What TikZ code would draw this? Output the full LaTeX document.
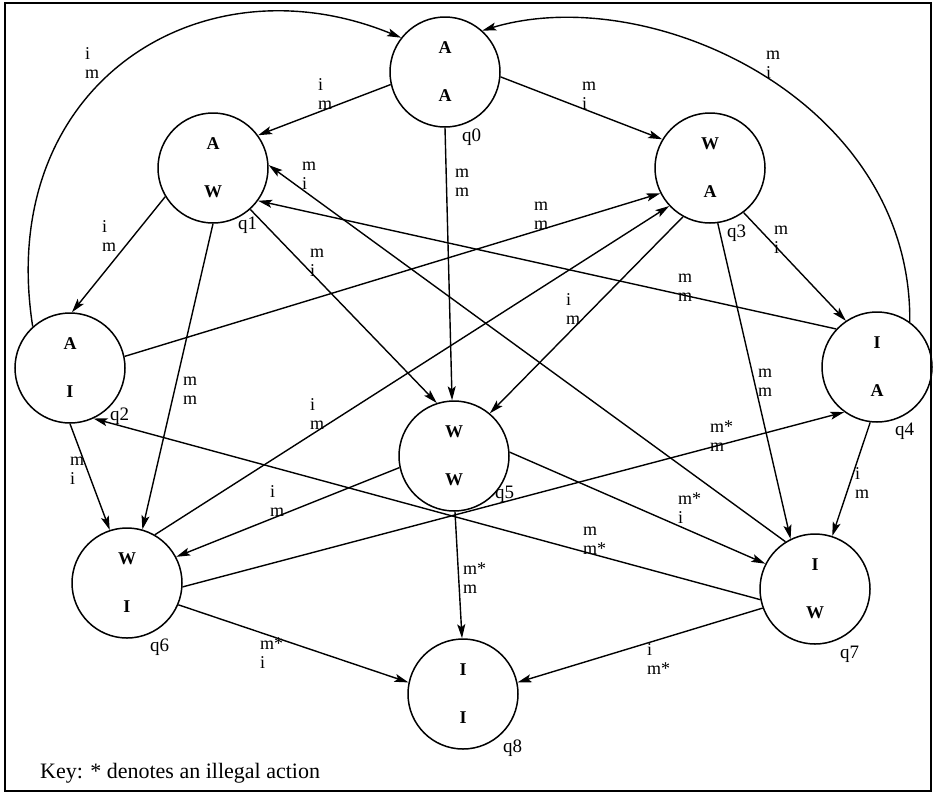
\documentclass[tikz,border=0pt]{standalone}
\usepackage{fontspec}
\setmainfont{Liberation Serif}
\usetikzlibrary{arrows.meta}
% two stacked action symbols, first line given a fixed height
\newcommand\acts[2]{\vphantom{i}#1\\#2}
\begin{document}
\begin{tikzpicture}[x=1pt,y=-1pt,
  state/.style={circle,draw,line width=1.5pt,minimum size=110pt,inner sep=0pt,
    align=center,font=\fontsize{18}{48}\selectfont\bfseries},
  edge/.style={line width=1.4pt,-{Stealth[length=14pt,width=8pt,inset=3pt]}},
  act/.style={anchor=west,align=left,inner sep=0pt,font=\fontsize{18}{18.5}\selectfont},
  qname/.style={anchor=base west,inner sep=0pt,font=\fontsize{19}{19}\selectfont},
]
\useasboundingbox (0,0) rectangle (933,793);
\draw[line width=2pt] (5,3) rectangle (931,791);

% states
\node[state] (q0) at (445,72)  {A\\A};
\node[state] (q1) at (213,168) {A\\W};
\node[state] (q2) at (70,368)  {A\\I};
\node[state] (q3) at (710,168) {W\\A};
\node[state] (q4) at (877,367) {I\\A};
\node[state] (q5) at (454,456) {W\\W};
\node[state] (q6) at (127,583) {W\\I};
\node[state] (q7) at (815,589) {I\\W};
\node[state] (q8) at (463,694) {I\\I};

% state names
\node[qname] (n0) at (462,141) {q0};
\node[qname] (n1) at (238,229) {q1};
\node[qname] (n2) at (110,420) {q2};
\node[qname] (n3) at (727,237) {q3};
\node[qname] (n4) at (895,435) {q4};
\node[qname] (n5) at (495,498) {q5};
\node[qname] (n6) at (150,651) {q6};
\node[qname] (n7) at (840,658) {q7};
\node[qname] (n8) at (503,752) {q8};

% transitions
\draw[edge] (q2.132) .. controls (-5,85) and (200,-45) .. (q0.142);
\draw[edge] (q4.54) .. controls (912,100) and (650,-20) .. (q0.48);
\draw[edge] (q0.193) -- (q1.36);
\draw[edge] (q0.355) -- (q3.149);
\draw[edge] (q0.270) -- (q5.92);
\draw[edge] (q7.122) -- (q1.3);
\draw[edge] (q1.211) -- (q2.88);
\draw[edge] (q1.270) -- (q6.74);
\draw[edge] (q1.312) -- (q5.108);
\draw[edge] (q2.12) -- (q3.207);
\draw[edge] (q6.60) -- (q3.223);
\draw[edge] (q3.241) -- (q5.50);
\draw[edge] (q3.278) -- (q7.116);
\draw[edge] (q3.307) -- (q4.124);
\draw[edge] (q4.137) -- (q1.324);
\draw[edge] (q6.356) -- (q4.234);
\draw[edge] (q5.192) -- (q6.28);
\draw[edge] (q5.4) -- (q7.153);
\draw[edge] (q7.191) -- (q2.295);
\draw[edge] (q5.271) -- (q8.91);
\draw[edge] (q6.337) -- (q8.168);
\draw[edge] (q7.200) -- (q8.12);
\draw[edge] (q2.270) -- (q6.108);
\draw[edge] (q4.263) -- (q7.72);

% action labels
\node[act] (a20) at (85,63)   {\acts{i}{m}};
\node[act] (a40) at (766,63)  {\acts{m}{i}};
\node[act] (a01) at (318,94)  {\acts{i}{m}};
\node[act] (a03) at (582,94)  {\acts{m}{i}};
\node[act] (a05) at (455,181) {\acts{m}{m}};
\node[act] (a71) at (302,174) {\acts{m}{i}};
\node[act] (a12) at (102,236) {\acts{i}{m}};
\node[act] (a16) at (183,389) {\acts{m}{m}};
\node[act] (a15) at (310,261) {\acts{m}{i}};
\node[act] (a23) at (534,214) {\acts{m}{m}};
\node[act] (a63) at (310,414) {\acts{i}{m}};
\node[act] (a35) at (566,309) {\acts{i}{m}};
\node[act] (a37) at (758,381) {\acts{m}{m}};
\node[act] (a34) at (774,238) {\acts{m}{i}};
\node[act] (a41) at (678,286) {\acts{m}{m}};
\node[act] (a64) at (710,436) {\acts{m*}{m}};
\node[act] (a56) at (270,501) {\acts{i}{m}};
\node[act] (a57) at (678,508) {\acts{m*}{i}};
\node[act] (a72) at (583,539) {\acts{m}{m*}};
\node[act] (a58) at (463,578) {\acts{m*}{m}};
\node[act] (a68) at (260,653) {\acts{m*}{i}};
\node[act] (a78) at (647,659) {\acts{i}{m*}};
\node[act] (a26) at (70,469)  {\acts{m}{i}};
\node[act] (a47) at (855,483) {\acts{i}{m}};

% key
\node[anchor=base west,inner sep=0pt,font=\fontsize{22}{24}\selectfont] (key) at (40,778) {Key: * denotes an illegal action};
\end{tikzpicture}
\end{document}
